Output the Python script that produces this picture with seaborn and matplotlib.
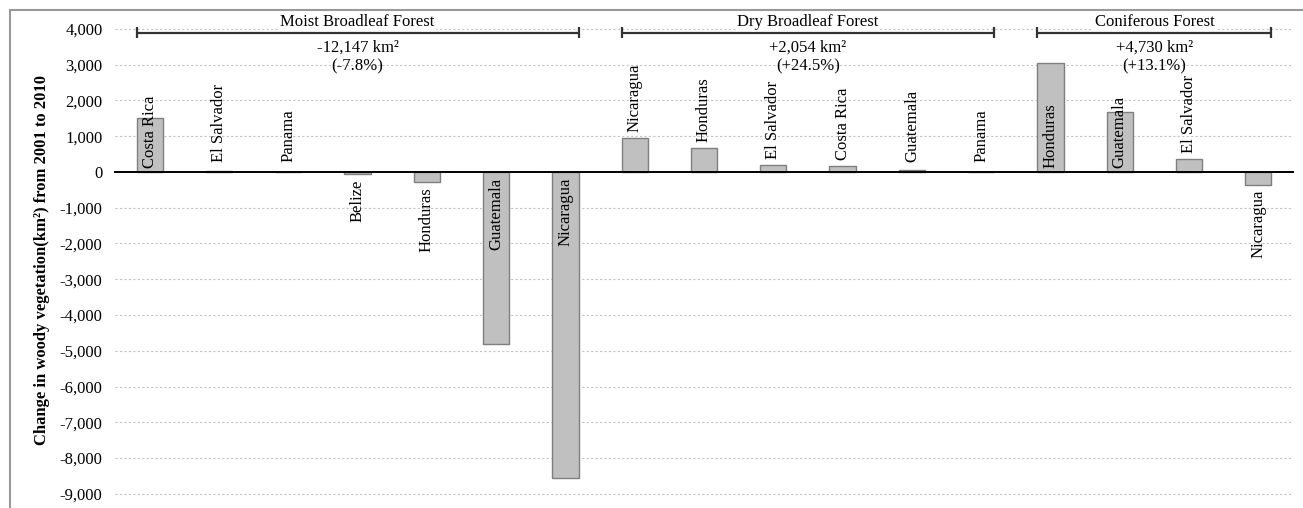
import numpy as np
import pandas as pd
import matplotlib
matplotlib.use("Agg")
import matplotlib.pyplot as plt
from matplotlib.patches import Rectangle
from matplotlib.ticker import FuncFormatter
import seaborn as sns

# data (km2, change 2001-2010)
moist_countries = ["Costa Rica", "El Salvador", "Panama", "Belize", "Honduras", "Guatemala", "Nicaragua"]
moist_values = [1500, 40, 5, -50, -280, -4800, -8560]
dry_countries = ["Nicaragua", "Honduras", "El Salvador", "Costa Rica", "Guatemala", "Panama"]
dry_values = [950, 680, 190, 155, 65, 10]
conif_countries = ["Honduras", "Guatemala", "El Salvador", "Nicaragua"]
conif_values = [3060, 1670, 350, -350]

group_names = ["Moist Broadleaf Forest", "Dry Broadleaf Forest", "Coniferous Forest"]
group_totals = ["-12,147 km²", "+2,054 km²", "+4,730 km²"]
group_pcts = ["(-7.8%)", "(+24.5%)", "(+13.1%)"]
y_ticks = list(range(-9000, 4001, 1000))

groups = [(moist_countries, moist_values), (dry_countries, dry_values), (conif_countries, conif_values)]
rows = []
for g, (cs, vs) in enumerate(groups):
    for c, v in zip(cs, vs):
        rows.append({"slot": f"{g}-{c}", "country": c, "value": v, "group": g})
df = pd.DataFrame(rows)

sns.set_style("white")
plt.rcParams["font.family"] = ["Liberation Serif", "DejaVu Serif"]

fig = plt.figure(figsize=(13.03, 5.08), dpi=100)
ax = fig.add_axes([0.0883, 0.0034, 0.904, 0.9677])

sns.barplot(data=df, x="slot", y="value", order=list(df["slot"]), color="#c0c0c0",
            saturation=1, edgecolor="#7f7f7f", linewidth=1, width=0.38, ax=ax)

n = len(df)
ax.set_xlim(-0.5, n - 0.5)
ax.set_ylim(-9350, 4400)

# dotted horizontal grid
ax.set_yticks(y_ticks)
ax.yaxis.set_major_formatter(FuncFormatter(lambda v, p: f"{v:,.0f}"))
ax.grid(axis="y", color="#c4c4c4", linestyle=(0, (2, 2)), linewidth=0.8)
ax.set_axisbelow(True)
ax.tick_params(axis="y", length=0, pad=9, labelsize=12, labelcolor="black")

# category axis drawn through zero
ax.spines["bottom"].set_position(("data", 0))
ax.spines["bottom"].set_color("black")
ax.spines["bottom"].set_linewidth(1.4)
ax.spines["bottom"].set_zorder(3)
for s in ["left", "right", "top"]:
    ax.spines[s].set_visible(False)
ax.set_xticks(np.arange(-0.5, n, 1))
ax.set_xticklabels([])
ax.tick_params(axis="x", direction="inout", length=7, width=1, color="black")
ax.set_xlabel("")
ax.set_ylabel("Change in woody vegetation(km²) from 2001 to 2010", fontsize=12,
              fontweight="bold", color="black")
ax.yaxis.set_label_coords(-0.055, 0.5)

# country labels
for i, (c, v) in enumerate(zip(df["country"], df["value"])):
    if v >= 1200:
        y, va = 100, "bottom"
    elif v >= 0:
        y, va = max(v + 170, 280), "bottom"
    elif v > -1000:
        y, va = min(v - 150, -200), "top"
    else:
        y, va = -170, "top"
    ax.text(i, y, c, rotation=90, ha="center", va=va, fontsize=12, color="black")

# group brackets and totals
start = 0
for g, (cs, vs) in enumerate(groups):
    end = start + len(cs) - 1
    x0, x1 = start - 0.19, end + 0.19
    ax.plot([x0, x1], [3900, 3900], color="#333333", lw=1.6, clip_on=False)
    ax.vlines([x0, x1], 3740, 4060, color="#333333", lw=1.6, clip_on=False)
    xm = (x0 + x1) / 2
    ax.text(xm, 4200, group_names[g], ha="center", va="center", fontsize=12,
            color="black", clip_on=False,
            bbox=dict(facecolor="white", edgecolor="none", pad=1))
    ax.text(xm, 3480, group_totals[g], ha="center", va="center", fontsize=12, color="black")
    ax.text(xm, 2960, group_pcts[g], ha="center", va="center", fontsize=12, color="black")
    start = end + 1

# outer frame
fig.add_artist(Rectangle((0.0077, -0.1), 1.2, 1.08, transform=fig.transFigure,
                         fill=False, edgecolor="#999999", lw=1.5))

fig.savefig("out.png", dpi=100)
